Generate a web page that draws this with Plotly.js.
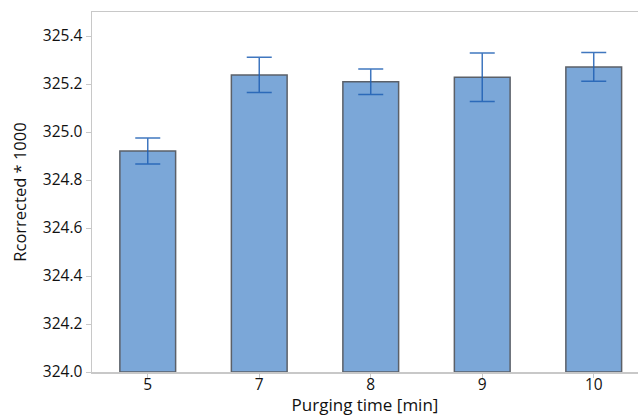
<!DOCTYPE html>
<html>
<head>
<meta charset="utf-8">
<script src="https://cdn.plot.ly/plotly-3.0.1.min.js"></script>
<style>html,body{margin:0;padding:0;background:#fff;}#chart{width:638px;height:416px;}</style>
</head>
<body>
<div id="chart"></div>
<script>
const categories = ["5", "7", "8", "9", "10"];
const values = [324.921, 325.238, 325.209, 325.228, 325.271];
const errors = [0.054, 0.073, 0.053, 0.101, 0.060];
const yTicks = [324.0, 324.2, 324.4, 324.6, 324.8, 325.0, 325.2, 325.4];
const yTickText = ["324.0", "324.2", "324.4", "324.6", "324.8", "325.0", "325.2", "325.4"];

const fontFam = "Open Sans, Noto Sans, sans-serif";

const trace = {
  type: "bar",
  x: categories,
  y: values.map(v => v - 324.0),
  base: 324.0,
  width: 0.5,
  marker: {color: "#7ba7d8", line: {color: "#5b6068", width: 1.5}},
  error_y: {type: "data", array: errors, visible: true, color: "rgba(30,95,180,0.85)", thickness: 1.5, width: 12.5},
  hoverinfo: "none"
};

const layout = {
  width: 638, height: 416,
  margin: {l: 92, r: 0, t: 12, b: 44, pad: 0},
  paper_bgcolor: "#fff", plot_bgcolor: "#fff",
  showlegend: false,
  bargap: 0.5,
  font: {family: fontFam, color: "#000"},
  xaxis: {
    type: "category",
    range: [-0.5, 4.397],
    showline: true, linecolor: "#c8c8c8", linewidth: 1.5, mirror: true,
    ticks: "outside", ticklen: 4, tickcolor: "#c8c8c8",
    ticklabelstandoff: -6,
    showgrid: false, zeroline: false,
    tickfont: {size: 15.5, family: fontFam, color: "#111"},
    title: {text: "Purging time [min]", font: {size: 17, family: fontFam, color: "#111"}, standoff: 1}
  },
  yaxis: {
    range: [324.0, 325.5],
    tickvals: yTicks, ticktext: yTickText,
    showline: true, linecolor: "#c8c8c8", linewidth: 1.5,
    ticks: "outside", ticklen: 5, tickcolor: "#c8c8c8",
    showgrid: false, zeroline: false,
    tickfont: {size: 15.5, family: fontFam, color: "#111"},
    title: {text: "Rcorrected * 1000", font: {size: 16.5, family: fontFam, color: "#111"}, standoff: 12}
  }
};

Plotly.newPlot("chart", [trace], layout, {staticPlot: true, displayModeBar: false});
</script>
</body>
</html>
